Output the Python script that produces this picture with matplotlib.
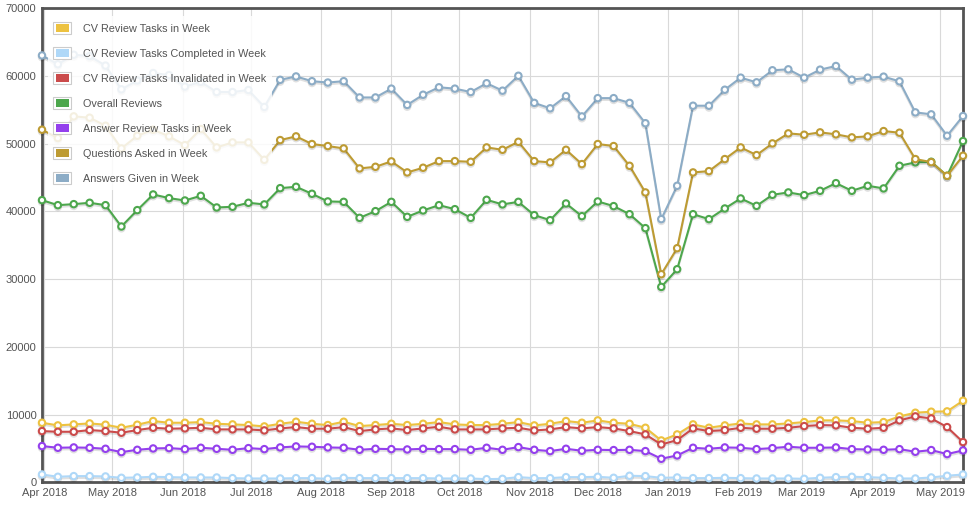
import matplotlib
matplotlib.use("Agg")
import matplotlib.pyplot as plt
import matplotlib.dates as mdates
import matplotlib.patheffects as pe
from matplotlib.legend_handler import HandlerBase
from matplotlib.patches import Rectangle
import pandas as pd

# weekly points, Saturday 31 Mar 2018 .. 11 May 2019
weeks = pd.date_range("2018-03-31", periods=59, freq="7D")

cv_tasks = [8810, 8420, 8570, 8710, 8520, 8070, 8520, 9060, 8810, 8810,
            8910, 8660, 8570, 8470, 8270, 8660, 8960, 8660, 8470, 8960,
            8320, 8470, 8660, 8470, 8660, 8910, 8570, 8470, 8470, 8660,
            8910, 8420, 8660, 9060, 8810, 9160, 8810, 8660, 8070, 6200,
            7090, 8570, 8070, 8420, 8710, 8570, 8570, 8710, 8910, 9160,
            9160, 9060, 8810, 8910, 9750, 10290, 10440, 10490, 12060]

cv_completed = [1180, 840, 940, 940, 890, 690, 740, 840, 790, 740,
                740, 740, 640, 590, 590, 590, 640, 640, 540, 690,
                640, 640, 640, 640, 640, 590, 590, 590, 490, 540,
                790, 640, 640, 790, 790, 840, 690, 990, 940, 690,
                740, 640, 640, 690, 640, 590, 590, 590, 540, 690,
                790, 840, 790, 690, 590, 590, 740, 990, 1180]

cv_invalidated = [7580, 7480, 7480, 7730, 7580, 7340, 7730, 8070, 7930, 7980,
                  8070, 7830, 7830, 7830, 7680, 7980, 8170, 7930, 7930, 8170,
                  7580, 7830, 7980, 7730, 7980, 8220, 7830, 7830, 7830, 7980,
                  8070, 7680, 7830, 8170, 7980, 8170, 7980, 7580, 7090, 5610,
                  6250, 7980, 7580, 7730, 8070, 7930, 7930, 8070, 8320, 8470,
                  8420, 8070, 7930, 8070, 9160, 9750, 9450, 8170, 5960]

overall_reviews = [41650, 40910, 41060, 41260, 40910, 37760, 40180, 42490, 41950, 41600,
                   42290, 40570, 40670, 41260, 41020, 43420, 43620, 42590, 41460, 41400,
                   39040, 40030, 41400, 39190, 40130, 40910, 40320, 39040, 41700, 41020,
                   41400, 39440, 38700, 41160, 39290, 41460, 40770, 39580, 37520, 28850,
                   31460, 39580, 38850, 40420, 41900, 40810, 42440, 42790, 42390, 43030,
                   44160, 43030, 43770, 43380, 46720, 47220, 47310, 45240, 50370]

answer_tasks = [5370, 5120, 5170, 5120, 4970, 4480, 4820, 5020, 5070, 4920,
                5120, 4970, 4820, 5070, 4920, 5170, 5320, 5270, 5170, 5120,
                4820, 4970, 4920, 4870, 4970, 4920, 4920, 4820, 5120, 4820,
                5220, 4820, 4630, 4970, 4680, 4820, 4780, 4820, 4630, 3500,
                3990, 5120, 4970, 5170, 5120, 4920, 5070, 5270, 5120, 5120,
                5170, 4920, 4870, 4820, 4920, 4530, 4780, 4190, 4730]

questions = [52040, 50810, 54010, 53810, 52630, 49280, 51150, 52040, 51060, 49770,
             52140, 49430, 50170, 50170, 47600, 50510, 51060, 49930, 49630, 49280,
             46330, 46570, 47370, 45740, 46430, 47410, 47410, 47310, 49430, 49080,
             50260, 47410, 47220, 49080, 46970, 49930, 49630, 46720, 42790, 30720,
             34560, 45740, 45930, 47710, 49430, 48300, 50020, 51500, 51300, 51650,
             51360, 50910, 51060, 51840, 51600, 47710, 47260, 45240, 48200]

answers = [63000, 61700, 63100, 62900, 61500, 58000, 59300, 60400, 60100, 58400,
           59100, 57600, 57600, 57900, 55400, 59400, 59900, 59200, 59000, 59200,
           56800, 56800, 58100, 55700, 57200, 58300, 58100, 57600, 58900, 57800,
           60000, 56000, 55200, 57000, 54000, 56700, 56700, 56000, 53000, 38850,
           43770, 55580, 55580, 57940, 59720, 59030, 60810, 60950, 59720, 60900,
           61440, 59420, 59720, 59870, 59180, 54600, 54310, 51150, 54060]

labels = ["CV Review Tasks in Week", "CV Review Tasks Completed in Week",
          "CV Review Tasks Invalidated in Week", "Overall Reviews",
          "Answer Review Tasks in Week", "Questions Asked in Week",
          "Answers Given in Week"]
colors = ["#edc240", "#afd8f8", "#cb4b4b", "#4da74d", "#9440ed", "#bd9b33", "#8cacc6"]
values = [cv_tasks, cv_completed, cv_invalidated, overall_reviews,
          answer_tasks, questions, answers]

TEXT = "#545454"
plt.rcParams["font.family"] = ["Liberation Sans", "DejaVu Sans"]


class BoxHandler(HandlerBase):
    """flot-style legend swatch: grey frame, white gap, coloured box"""
    def create_artists(self, legend, orig_handle, xdescent, ydescent,
                       width, height, fontsize, trans):
        outer = Rectangle((-xdescent, -ydescent), width, height,
                          facecolor="white", edgecolor="#cccccc", lw=0.8,
                          transform=trans)
        pad = 1.6
        inner = Rectangle((-xdescent + pad, -ydescent + pad),
                          width - 2 * pad, height - 2 * pad,
                          facecolor=orig_handle.get_facecolor(),
                          edgecolor="none", transform=trans)
        return [outer, inner]


fig = plt.figure(figsize=(9.71, 5.05), dpi=100)
ax = fig.add_axes([0.04325, 0.0446, 0.9485, 0.9396])

shadow = [pe.SimpleLineShadow(offset=(0, -1.3), shadow_color="black", alpha=0.12),
          pe.Normal()]

for i, (lab, vals, col) in enumerate(zip(labels, values, colors)):
    ax.plot(weeks, vals, color=col, lw=1.5, marker="o", ms=4.6,
            mfc="white", mec=col, mew=1.5, clip_on=False,
            zorder=3 + i * 0.1, path_effects=shadow)

ax.set_xlim(weeks[0], weeks[-1])
ax.set_ylim(0, 70000)
ax.set_yticks(range(0, 70001, 10000))
ax.xaxis.set_major_locator(mdates.MonthLocator())
ax.xaxis.set_major_formatter(mdates.DateFormatter("%b %Y"))

ax.grid(True, color="#d9d9d9", lw=0.8)
ax.set_axisbelow(True)
ax.tick_params(length=0, labelsize=8, labelcolor=TEXT, pad=4)
for sp in ax.spines.values():
    sp.set_color(TEXT)
    sp.set_linewidth(2.0)
    sp.set_zorder(2.5)

handles = [Rectangle((0, 0), 1, 1, facecolor=c) for c in colors]
leg = ax.legend(handles, labels, handler_map={Rectangle: BoxHandler()},
                loc="upper left", bbox_to_anchor=(0.006, 0.983),
                borderaxespad=0, borderpad=0.55, fontsize=7.8,
                handlelength=1.65, handleheight=1.3, handletextpad=1.05,
                labelspacing=1.22, frameon=True, fancybox=False,
                framealpha=0.85, edgecolor="none", facecolor="white")
for t in leg.get_texts():
    t.set_color(TEXT)
leg.set_zorder(10)

fig.savefig("out.png", dpi=100)
